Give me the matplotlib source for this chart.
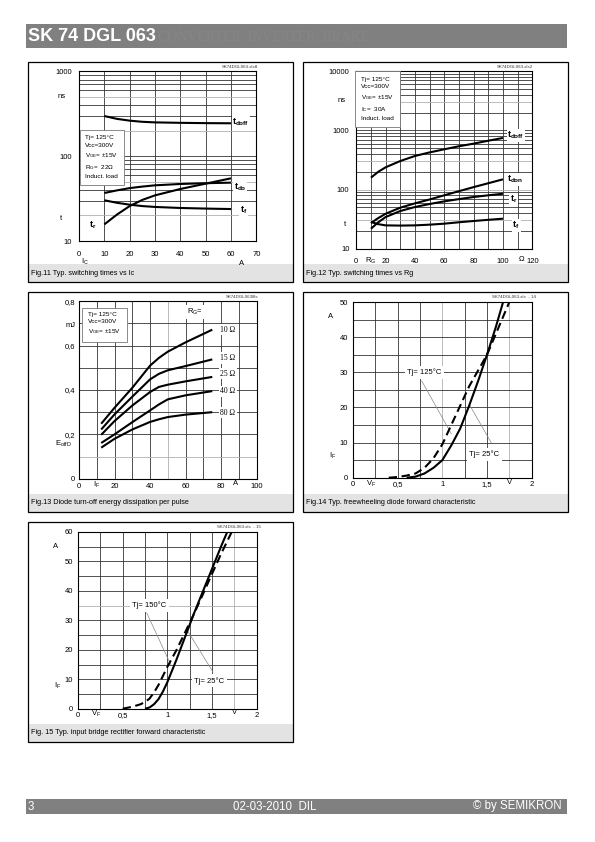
import matplotlib
matplotlib.use('Agg')
import matplotlib.pyplot as plt
from matplotlib.patches import Rectangle

plt.rcParams['font.family'] = ['Liberation Sans', 'DejaVu Sans']
plt.rcParams['mathtext.fontset'] = 'custom'
plt.rcParams['mathtext.rm'] = 'Liberation Sans'
plt.rcParams['mathtext.it'] = 'Liberation Sans'
plt.rcParams['mathtext.bf'] = 'Liberation Sans:bold'

# ---------------- data ----------------
# Fig.11 switching times vs Ic
ic = [10, 15, 20, 25, 30, 40, 50, 60]
f11_tdoff = [297, 275, 262, 254, 250, 247, 245, 244]
f11_tdon = [36.8, 39.5, 42, 43.8, 45.3, 47, 48, 48.7]
f11_tf = [30.2, 28.2, 26.8, 25.8, 25.2, 24.5, 24.1, 23.8]
f11_tr = [15.7, 20.5, 25.8, 30.5, 34.5, 41, 47.4, 54.8]

# Fig.12 switching times vs Rg
rg = [10, 15, 20, 30, 40, 50, 60, 70, 80, 90, 100]
f12_tdoff = [159, 200, 238, 304, 370, 425, 480, 540, 598, 670, 746]
f12_tdon = [27.2, 33, 39, 49.4, 58.5, 68, 80, 94, 110, 128, 149]
f12_tr = [21.8, 28, 34.3, 43.4, 50.7, 57, 63.2, 69, 74.8, 80, 85]
f12_tf = [28.3, 26, 24.8, 24.6, 24.8, 25.5, 26.5, 28, 29.4, 30.8, 32.2]

# Fig.13 diode turn-off energy
i_f13 = [12.5, 20, 30, 40, 45, 50, 60, 75]
e_10 = [0.248, 0.32, 0.41, 0.51, 0.545, 0.573, 0.615, 0.672]
e_15 = [0.222, 0.29, 0.37, 0.448, 0.473, 0.489, 0.508, 0.538]
e_25 = [0.198, 0.26, 0.33, 0.391, 0.414, 0.424, 0.439, 0.459]
e_40 = [0.161, 0.2, 0.255, 0.308, 0.335, 0.358, 0.376, 0.395]
e_80 = [0.14, 0.18, 0.222, 0.256, 0.268, 0.278, 0.289, 0.30]
rg_labels = ['10 Ω', '15 Ω', '25 Ω', '40 Ω', '80 Ω']

# Fig.14 freewheeling diode forward characteristic
v14_25 = [0.6, 0.7, 0.8, 0.9, 1.0, 1.1, 1.2, 1.3, 1.4, 1.5, 1.6, 1.68]
i14_25 = [0, 0.3, 1.2, 2.8, 5.0, 9.2, 14, 20.5, 27.5, 35, 43, 50]
v14_125 = [0.4, 0.5, 0.6, 0.7, 0.8, 0.9, 1.0, 1.1, 1.2, 1.3, 1.4, 1.5, 1.6, 1.75]
i14_125 = [0, 0.2, 0.6, 1.2, 2.8, 5.5, 9.5, 15, 20.5, 26, 30.5, 35, 41, 50]

# Fig.15 input bridge rectifier forward characteristic
v15_25 = [0.75, 0.8, 0.85, 0.9, 0.95, 1.0, 1.1, 1.2, 1.3, 1.4, 1.5, 1.6, 1.67]
i15_25 = [0, 0.4, 1.5, 3.2, 5.8, 9, 16.5, 24.5, 32.5, 40, 47.5, 55, 60]
v15_150 = [0.5, 0.6, 0.7, 0.75, 0.8, 0.85, 0.9, 1.0, 1.1, 1.2, 1.3, 1.4, 1.5, 1.6, 1.72]
i15_150 = [0, 0.6, 1.5, 2.3, 3.4, 5.5, 8, 14.2, 19.8, 26, 32.3, 39, 45.8, 52.5, 60]

# ---------------- layout helpers ----------------
W, H = 595, 842
fig = plt.figure(figsize=(W / 100, H / 100), dpi=100)
GRAY = '#808080'
GRID = '#333333'
LGRID = '#b0b0b0'


def fr(x0, y0, x1, y1):
    return [x0 / W, 1 - y1 / H, (x1 - x0) / W, (y1 - y0) / H]


def ftext(x, y, s, **kw):
    kw.setdefault('fontsize', 5.5)
    kw.setdefault('va', 'center')
    return fig.text(x / W, 1 - y / H, s, **kw)


def rect(x0, y0, x1, y1, **kw):
    r = Rectangle((x0 / W, 1 - y1 / H), (x1 - x0) / W, (y1 - y0) / H,
                  transform=fig.transFigure, **kw)
    fig.add_artist(r)


def panel(x0, y0, x1, y1, caption):
    rect(x0 + 0.5, y1 - 18, x1 - 0.5, y1, facecolor='#e3e3e3', edgecolor='none', zorder=1)
    rect(x0, y0, x1, y1, fill=False, edgecolor='black', lw=0.9, zorder=5)
    ftext(x0 + 3, y1 - 9, caption, fontsize=5.2, ha='left')


def setup_axes(box, xlim, ylim, xticks, xlabels, yticks, ylabels, vgrid, hgrid,
               vgray=(), hgray=(), log=False, xpad=3, ypad=3):
    ax = fig.add_axes(fr(*box))
    if log:
        ax.set_yscale('log')
    ax.set_xlim(*xlim)
    ax.set_ylim(*ylim)
    ax.set_xticks(xticks)
    ax.set_xticklabels(xlabels)
    ax.set_yticks(yticks)
    ax.set_yticklabels(ylabels)
    ax.minorticks_off()
    ax.tick_params(length=0, labelsize=5.5, colors='black')
    ax.tick_params(axis='x', pad=xpad)
    ax.tick_params(axis='y', pad=ypad)
    for v in vgrid:
        ax.axvline(v, color=LGRID if v in vgray else GRID, lw=0.6, zorder=1)
    for h in hgrid:
        ax.axhline(h, color=LGRID if h in hgray else GRID, lw=0.6, zorder=1)
    for s in ax.spines.values():
        s.set_linewidth(0.8)
    ax.patch.set_alpha(0)
    return ax


CURVE = dict(color='black', lw=1.5, zorder=4, solid_capstyle='butt')
DASH = dict(color='black', lw=1.5, zorder=4, ls=(0, (4, 2.2)))
WBOX = dict(facecolor='white', edgecolor='none', pad=0.6)

# ---------------- header / footer ----------------
rect(26, 24, 567, 48, facecolor=GRAY, edgecolor='none')
ftext(28, 36.5, 'SK 74 DGL 063', fontsize=13, fontweight='bold', color='white', ha='left')
ftext(158, 37, 'CONVERTER, INVERTER, BRAKE', fontsize=10, color='#868686', ha='left',
      family='Liberation Serif')
rect(26, 799, 567, 814, facecolor=GRAY, edgecolor='none')
ftext(28, 806.5, '3', fontsize=8.3, color='white', ha='left')
ftext(275, 806.5, '02-03-2010  DIL', fontsize=8.3, color='white', ha='center')
ftext(562, 806.5, '© by SEMIKRON', fontsize=8.3, color='white', ha='right')

# ---------------- Fig.11 ----------------
panel(28, 62, 293, 282, 'Fig.11 Typ. switching times vs Ic')
minor11 = [m * d for d in (10, 100) for m in range(2, 10)]
ax = setup_axes((79, 71.3, 256.3, 241), (0, 70), (10, 1000),
                list(range(0, 71, 10)), [str(v) for v in range(0, 71, 10)],
                [10, 100, 1000], ['10', '100', '1000'],
                list(range(10, 61, 10)), minor11 + [100],
                hgray=(20, 50, 200, 500), log=True, xpad=7, ypad=5)
ax.plot(ic, f11_tdoff, **CURVE)
ax.plot(ic, f11_tdon, **CURVE)
ax.plot(ic, f11_tf, **CURVE)
ax.plot(ic, f11_tr, **CURVE)
ax.text(60.6, 248, r'$\mathbf{t_{doff}}$', fontsize=6.5, va='center', ha='left', bbox=WBOX, zorder=6)
ax.text(61, 43, r'$\mathbf{t_{do}}$', fontsize=6.5, va='center', ha='left', bbox=WBOX, zorder=6)
ax.text(63.5, 23.2, r'$\mathbf{t_{f}}$', fontsize=6.5, va='center', ha='left', bbox=WBOX, zorder=6)
ax.text(4, 15.3, r'$\mathbf{t_{r}}$', fontsize=6.5, va='center', ha='left', zorder=6)
ax.text(2.5, 176, 'Tj= 125°C\nVcc=300V\n' + r'V$_{\mathregular{GE}}$= ±15V' + '\n' +
        r'R$_{\mathregular{G}}$=  22Ω' + '\nInduct. load',
        fontsize=4.6, va='top', ha='left', linespacing=1.55, zorder=6,
        bbox=dict(facecolor='white', edgecolor='#777777', lw=0.6,
                  boxstyle='square,pad=0.9'))
ftext(58, 96.5, 'ns', ha='left')
ftext(59.5, 219, 't', ha='left')
ftext(84.5, 261.5, r'I$_{\mathregular{C}}$', ha='center')
ftext(241.5, 263.5, 'A', ha='center')
ftext(258, 66.5, 'SK74DGL063.xls8', fontsize=3.2, ha='right', color='#333333')

# ---------------- Fig.12 ----------------
panel(303, 62, 568, 282, 'Fig.12 Typ. switching times vs Rg')
minor12 = [m * d for d in (10, 100, 1000) for m in range(2, 10)]
ax = setup_axes((356.3, 71.3, 532.3, 248.7), (0, 120), (10, 10000),
                list(range(0, 121, 20)), [str(v) for v in range(0, 121, 20)],
                [10, 100, 1000, 10000], ['10', '100', '1000', '10000'],
                list(range(10, 111, 10)), minor12 + [100, 1000],
                hgray=(30, 100, 300, 3000), log=True, xpad=7, ypad=5)
ax.plot(rg, f12_tdoff, **CURVE)
ax.plot(rg, f12_tdon, **CURVE)
ax.plot(rg, f12_tr, **CURVE)
ax.plot(rg, f12_tf, **CURVE)
ax.text(103, 830, r'$\mathbf{t_{doff}}$', fontsize=6.5, va='center', ha='left', bbox=WBOX, zorder=6)
ax.text(103, 150, r'$\mathbf{t_{don}}$', fontsize=6.5, va='center', ha='left', bbox=WBOX, zorder=6)
ax.text(104.5, 68, r'$\mathbf{t_{r}}$', fontsize=6.5, va='center', ha='left', bbox=WBOX, zorder=6)
ax.text(106.5, 24.5, r'$\mathbf{t_{f}}$', fontsize=6.5, va='center', ha='left', bbox=WBOX, zorder=6)
ftext(361, 99, 'Tj= 125°C\nVcc=300V\n' + r'V$_{\mathregular{GE}}$= ±15V' + '\n' +
      r'I$_{\mathregular{C}}$=  30A' + '\nInduct. load',
      fontsize=4.6, va='center', ha='left', linespacing=1.55, zorder=6,
      bbox=dict(facecolor='white', edgecolor='#777777', lw=0.6,
                boxstyle='square,pad=0.9'))
ftext(338, 100.5, 'ns', ha='left')
ftext(344, 224.5, 't', ha='left')
ftext(370.5, 261.3, r'R$_{\mathregular{G}}$', ha='center')
ftext(521.5, 259.5, 'Ω', ha='center')
ftext(533, 66.5, 'SK74DGL063.xls2', fontsize=3.2, ha='right', color='#333333')

# ---------------- Fig.13 ----------------
panel(28, 292, 293, 512, 'Fig.13 Diode turn-off energy dissipation per pulse')
ax = setup_axes((79, 301.3, 256.7, 478.7), (0, 100), (0, 0.8),
                list(range(0, 101, 20)), ['0', '20', '40', '60', '80', '100'],
                [0, 0.2, 0.4, 0.6, 0.8], ['0', '0,2', '0,4', '0,6', '0,8'],
                list(range(10, 91, 10)), [0.1, 0.2, 0.3, 0.4, 0.5, 0.6, 0.7],
                vgray=(50,), hgray=(0.1,), xpad=3, ypad=3)
for e in (e_10, e_15, e_25, e_40, e_80):
    ax.plot(i_f13, e, **CURVE)
for lab, yv in zip(rg_labels, (0.672, 0.544, 0.474, 0.394, 0.298)):
    ax.text(79.5, yv, lab, fontsize=5.5, family='Liberation Serif', va='center', ha='left',
            bbox=dict(facecolor='white', edgecolor='none', pad=1.2), zorder=6)
ax.text(60.5, 0.752, r'R$_{\mathregular{G}}$=', fontsize=5.5, va='center', ha='left',
        bbox=dict(facecolor='white', edgecolor='none', pad=1.2), zorder=6)
ftext(88, 324, 'Tj= 125°C\nVcc=300V\n' + r'V$_{\mathregular{GE}}$= ±15V',
      fontsize=4.6, va='center', ha='left', linespacing=1.55, zorder=6,
      bbox=dict(facecolor='white', edgecolor='#777777', lw=0.6,
                boxstyle='square,pad=0.9'))
ftext(66, 325.5, 'mJ', ha='left')
ftext(55, 444, r'E$_{\mathregular{offD}}$', ha='left')
ftext(96.5, 484.5, r'I$_{\mathregular{F}}$', ha='center')
ftext(235.5, 483.5, 'A', ha='center')
ftext(258, 296.5, 'SK74DGL063l8s', fontsize=3.2, ha='right', color='#333333')

# ---------------- Fig.14 ----------------
panel(303, 292, 568, 512, 'Fig.14 Typ. freewheeling diode forward characteristic')
ax = setup_axes((353, 302, 531.7, 477.7), (0, 2), (0, 50),
                [0, 0.5, 1, 1.5, 2], ['0', '0,5', '1', '1,5', '2'],
                list(range(0, 51, 10)), [str(v) for v in range(0, 51, 10)],
                [0.25, 0.5, 0.75, 1.0, 1.25, 1.5, 1.75], list(range(5, 50, 5)),
                vgray=(1.0, 1.75), xpad=2.5, ypad=3.5)
ax.plot(v14_25, i14_25, **CURVE)
ax.plot(v14_125, i14_125, **DASH)
ax.plot([0.77, 1.10], [27.5, 12.5], color='#888888', lw=0.5, zorder=3)
ax.plot([1.55, 1.31], [9.8, 20.5], color='#888888', lw=0.5, zorder=3)
ax.text(0.80, 30, 'Tj= 125°C', fontsize=5.5, va='center', ha='center',
        bbox=dict(facecolor='white', edgecolor='none', pad=2.0), zorder=6)
ax.text(1.47, 6.6, 'Tj= 25°C', fontsize=5.5, va='center', ha='center',
        bbox=dict(facecolor='white', edgecolor='none', pad=2.0), zorder=6)
ftext(331, 317, 'A', ha='center')
ftext(333, 455.5, r'I$_{\mathregular{F}}$', ha='center')
ftext(371.5, 483.5, r'V$_{\mathregular{F}}$', ha='center')
ftext(509.5, 482, 'V', ha='center')
ftext(536, 296.5, 'SK74DGL063.xls  - 14', fontsize=3.2, ha='right', color='#333333')

# ---------------- Fig.15 ----------------
panel(28, 522, 293, 742, 'Fig. 15 Typ. input bridge rectifier forward characteristic')
ax = setup_axes((78, 532, 256.7, 708.7), (0, 2), (0, 60),
                [0, 0.5, 1, 1.5, 2], ['0', '0,5', '1', '1,5', '2'],
                list(range(0, 61, 10)), [str(v) for v in range(0, 61, 10)],
                [0.25, 0.5, 0.75, 1.0, 1.25, 1.5, 1.75], list(range(5, 60, 5)),
                vgray=(1.75,), hgray=(35,), xpad=2.5, ypad=3.5)
ax.plot(v15_25, i15_25, **CURVE)
ax.plot(v15_150, i15_150, **DASH)
ax.plot([0.77, 1.04], [32.5, 14.8], color='#888888', lw=0.5, zorder=3)
ax.plot([1.51, 1.225], [12.5, 26.5], color='#888888', lw=0.5, zorder=3)
ax.text(0.80, 35, 'Tj= 150°C', fontsize=5.5, va='center', ha='center',
        bbox=dict(facecolor='white', edgecolor='none', pad=2.0), zorder=6)
ax.text(1.47, 9.5, 'Tj= 25°C', fontsize=5.5, va='center', ha='center',
        bbox=dict(facecolor='white', edgecolor='none', pad=2.0), zorder=6)
ftext(56, 547, 'A', ha='center')
ftext(57.5, 685.5, r'I$_{\mathregular{F}}$', ha='center')
ftext(96.5, 714, r'V$_{\mathregular{F}}$', ha='center')
ftext(234.5, 712, 'V', ha='center')
ftext(261, 526.5, 'SK74DGL063.xls  - 15', fontsize=3.2, ha='right', color='#333333')

fig.savefig('out.png', dpi=100)
